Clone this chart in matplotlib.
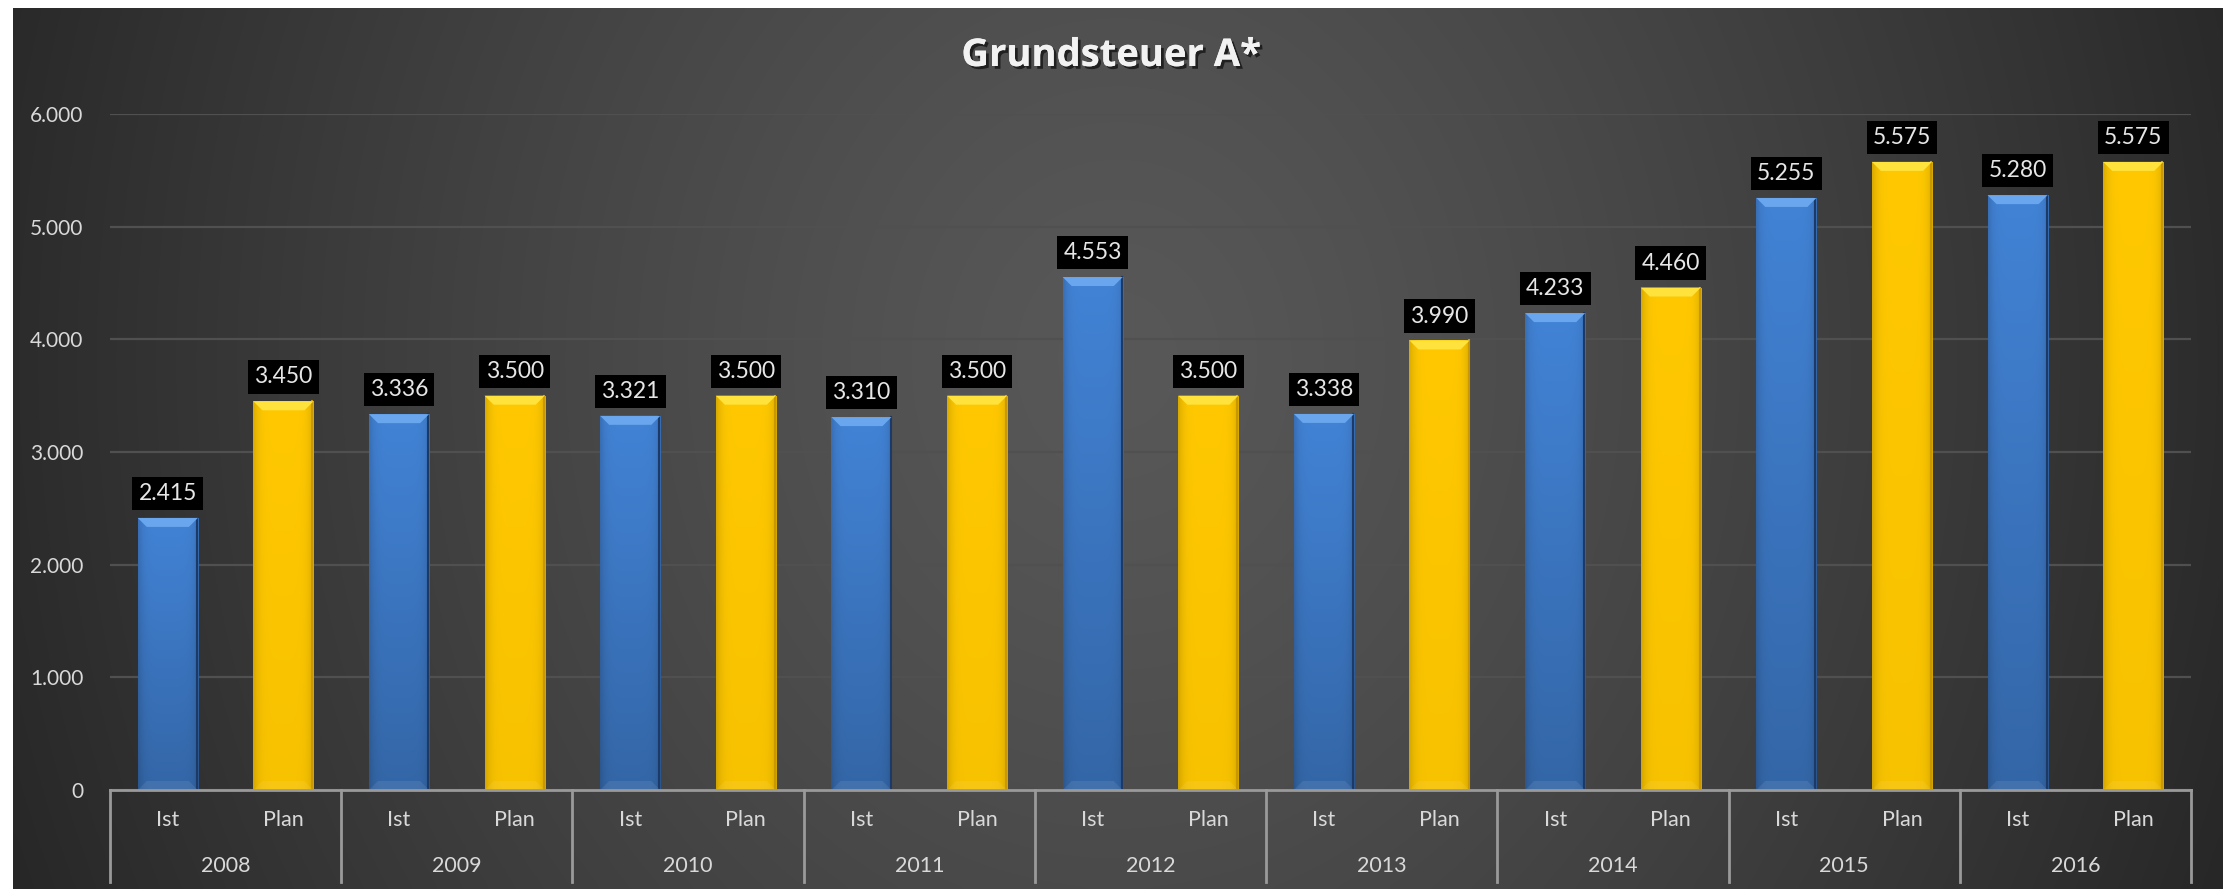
import numpy as np
import matplotlib
matplotlib.use("Agg")
import matplotlib.pyplot as plt
import matplotlib.patheffects as pe
from matplotlib.patches import Polygon
from matplotlib.transforms import blended_transform_factory

# data
years = ['2008', '2009', '2010', '2011', '2012', '2013', '2014', '2015', '2016']
series = ['Ist', 'Plan']
ist = [2415, 3336, 3321, 3310, 4553, 3338, 4233, 5255, 5280]
plan = [3450, 3500, 3500, 3500, 3500, 3990, 4460, 5575, 5575]
y_ticks = [0, 1000, 2000, 3000, 4000, 5000, 6000]

W, H, DPI = 2223, 889, 100
fig = plt.figure(figsize=(W / DPI, H / DPI), dpi=DPI, facecolor='white')

# dark background, lighter in the middle
bg = fig.add_axes([13 / W, 0, 1 - 13 / W, 1 - 8 / H], zorder=-10)
gx, gy = np.meshgrid(np.linspace(0, 1, 400), np.linspace(0, 1, 200))
d = np.sqrt(((gx - 0.5) / 0.55) ** 2 + ((gy - 0.6) / 1.6) ** 2)
d = np.clip(d, 0, 1)
c_in, c_out = 0x58 / 255, 0x26 / 255
shade = c_in + (c_out - c_in) * d ** 1.3
bg.imshow(np.dstack([shade] * 3), extent=(0, 1, 0, 1), aspect='auto',
          interpolation='bicubic', origin='lower')
bg.set_axis_off()

# main plot area
ax = fig.add_axes([110 / W, (H - 790) / H, (2191 - 110) / W, (790 - 114) / H])
ax.patch.set_alpha(0)

n = len(years)
x_ist = np.arange(n) * 2
x_plan = np.arange(n) * 2 + 1
bw = 0.52

px_y = 6000 / (790 - 114)       # data units per pixel (y)
px_x = 18 / (2191 - 110)        # data units per pixel (x)


def draw_bar(x, h, base, edge_dark, bevel, vgrad):
    x0, x1 = x - bw / 2, x + bw / 2
    bar = ax.bar(x, h, width=bw, color=base, zorder=3, linewidth=0)[0]
    # shading: darker towards the sides and the bottom
    u = np.linspace(-1, 1, 60)
    v = np.linspace(0, 1, 100)[:, None]
    side = 1 - 0.15 * np.abs(u) ** 6
    vert = (1 - vgrad) + vgrad * v
    f = side[None, :] * vert
    rgb = np.array(matplotlib.colors.to_rgb(base))
    img = np.clip(f[..., None] * rgb[None, None, :], 0, 1)
    im = ax.imshow(img, extent=(x0, x1, 0, h), aspect='auto', origin='lower',
                   interpolation='bicubic', zorder=3)
    im.set_clip_path(bar)
    # thin dark edge on the right side
    ax.plot([x1 - px_x, x1 - px_x], [0, h], color=edge_dark, lw=1.5, zorder=4)
    # top bevel
    bh, bi = 9 * px_y, 9 * px_x
    ax.add_patch(Polygon([[x0, h], [x1, h], [x1 - bi, h - bh], [x0 + bi, h - bh]],
                         closed=True, fc=bevel, ec='none', zorder=4))
    ax.add_patch(Polygon([[x0, 0], [x1, 0], [x1 - bi, bh], [x0 + bi, bh]],
                         closed=True, fc='white', ec='none', alpha=0.08, zorder=4))


for xi, v in zip(x_ist, ist):
    draw_bar(xi, v, '#4283d6', '#1d3a66', '#69a6ee', 0.22)
for xp, v in zip(x_plan, plan):
    draw_bar(xp, v, '#ffc800', '#c99700', '#ffe33c', 0.03)

# value labels in black boxes
for xs, vals in ((x_ist, ist), (x_plan, plan)):
    for xi, v in zip(xs, vals):
        ax.annotate(f'{v:,.0f}'.replace(',', '.'), (xi, v), xytext=(0, 10),
                    textcoords='offset points', ha='center', va='bottom',
                    fontsize=16.5, family='Lato', color='#e6e6e6', zorder=6,
                    annotation_clip=False,
                    bbox=dict(boxstyle='square,pad=0.27', fc='black', ec='none'))

ax.set_xlim(-0.5, 2 * n - 0.5)
ax.set_ylim(0, 6000)
ax.set_yticks(y_ticks)
ax.set_yticklabels([f'{t:,.0f}'.replace(',', '.') for t in y_ticks],
                   family='Lato', fontsize=15, color='#d9d9d9')
ax.tick_params(axis='y', length=0, pad=19)
ax.set_xticks([])
ax.grid(axis='y', color='#505050', lw=1.6, zorder=0)
ax.set_axisbelow(True)
for s in ax.spines.values():
    s.set_visible(False)

# multi-level category axis
tr = blended_transform_factory(ax.transData, ax.transAxes)
ax.plot([-0.5, 2 * n - 0.5], [0, 0], transform=tr, color='#9a9a9a', lw=2,
        clip_on=False, zorder=5)
for b in np.arange(n + 1) * 2 - 0.5:
    ax.plot([b, b], [0, -0.136], transform=tr, color='#9a9a9a', lw=2,
            clip_on=False, zorder=5)
for i, yr in enumerate(years):
    for j, s in enumerate(series):
        ax.text(2 * i + j, -0.045, s, transform=tr, ha='center', va='center',
                family='Lato', fontsize=15.5, color='#d9d9d9')
    ax.text(2 * i + 0.5, -0.113, yr, transform=tr, ha='center', va='center',
            family='Lato', fontsize=15.5, color='#d9d9d9')

fig.text(0.5, 1 - 56 / H, 'Grundsteuer A*', ha='center', va='center',
         family='Open Sans', fontweight='bold', fontsize=27.5, color='#f2f2f2',
         path_effects=[pe.withSimplePatchShadow(offset=(2, -2), shadow_rgbFace='black', alpha=0.6),
                       pe.Normal()])

fig.savefig('out.png', dpi=DPI, facecolor='white')
